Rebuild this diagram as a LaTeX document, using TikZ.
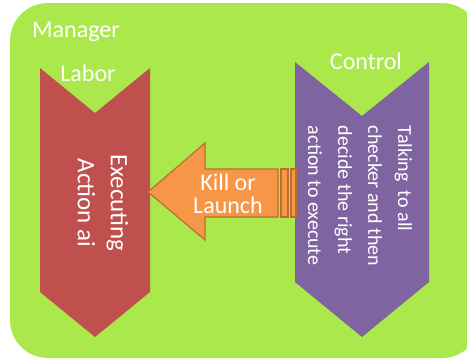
\documentclass[tikz,border=0pt]{standalone}
\usepackage{fontspec}
\setmainfont{Carlito}
\usetikzlibrary{positioning}

\definecolor{panelgreen}{HTML}{ABE84B}
\definecolor{laborred}{HTML}{C0504D}
\definecolor{ctrlpurple}{HTML}{8064A2}
\definecolor{cmdorange}{HTML}{F79646}
\definecolor{cmdedge}{HTML}{B8702F}

\tikzset{
  panel/.style={fill=panelgreen, rounded corners=38pt},
  chevron/.style={fill=#1},
  cmdarrow/.style={fill=cmdorange, draw=cmdedge, line width=1.2pt, line join=miter},
  title/.style={text=white, font=\fontsize{24}{28}\selectfont, inner sep=0pt},
  body/.style={text=white, rotate=-90, inner sep=0pt},
}

\begin{document}
\begin{tikzpicture}[x=1pt, y=1pt]
	\useasboundingbox (0,0) rectangle (467,360);

	% manager panel, runs off the right edge
	\path [panel] (10,2) -- (10,357) -- (480,357) -- (480,2) -- cycle;
	\node [title, anchor=base west] (manager) at (32,323) {Manager};

	% labor chevron
	\path [chevron=laborred] (40,292) -- (95,247) -- (150,292) -- (150,68)
		-- (95,23) -- (40,68) -- cycle;
	\node [title] (labor) at (88,287) {Labor};
	\node [body, align=center, font=\fontsize{25}{33}\selectfont] (exec) at (103,157)
		{Executing\\Action ai};

	% control chevron
	\path [chevron=ctrlpurple] (295,298) -- (362,244) -- (429,298) -- (429,78)
		-- (362,23) -- (295,78) -- cycle;
	\node [title] (control) at (366,299) {Control};
	\node [body, align=left, font=\fontsize{20}{30}\selectfont] (talk) at (360,164)
		{Talking~ to all\\checker and then\\decide the right\\action to execute};

	% kill / launch arrow
	\path [cmdarrow] (148,168) -- (205,217) -- (205,191) -- (278,191)
		-- (278,143) -- (205,143) -- (205,120) -- cycle;
	\path [cmdarrow] (281,191) rectangle (288,143);
	\path [cmdarrow] (291,191) rectangle (296,143);
	\node [title, align=center, font=\fontsize{24}{23}\selectfont] (kill) at (228,166)
		{Kill or\\Launch};
\end{tikzpicture}
\end{document}
